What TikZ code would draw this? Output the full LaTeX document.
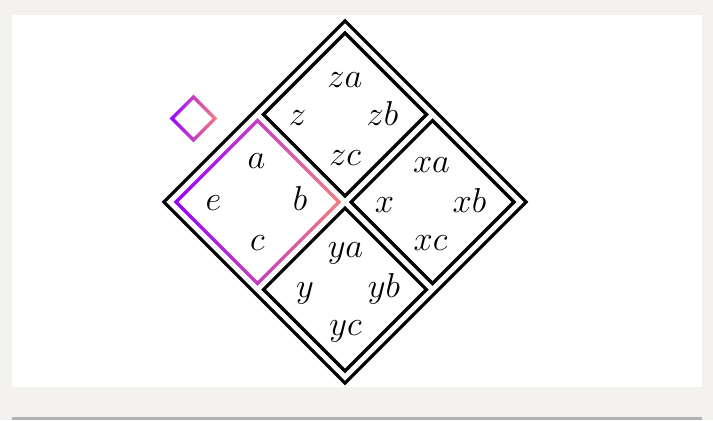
\documentclass[tikz,border=0pt]{standalone}
\usepackage{amsmath}
\definecolor{pagebg}{RGB}{243,242,239}
\definecolor{rulegray}{RGB}{178,178,178}
\definecolor{gradleft}{RGB}{150,0,255}
\definecolor{gradmid}{RGB}{222,60,175}
\definecolor{gradright}{RGB}{242,128,128}

\begin{document}
\begin{tikzpicture}[x=0.5pt, y=0.5pt,
    frame/.style={draw=black, line width=1.6pt},
    grad/.style={left color=gradleft, middle color=gradmid, right color=gradright, even odd rule},
    lbl/.style={anchor=base, inner sep=0pt, font=\LARGE}]

    % Page
    \useasboundingbox (0,0) rectangle (713,420);
    \fill[pagebg] (0,0) rectangle (713,420);
    \fill[white] (12,33) rectangle (702,405);
    \fill[rulegray] (12,0) rectangle (702,3.5);

    % Outer square and the black quadrants
    \begin{scope}[shift={(345,218)}, rotate=45]
        \draw[frame] (-128,-128) rectangle (128,128);
        \draw[frame] (4.25,4.25) rectangle (119.5,119.5);      % z
        \draw[frame] (4.25,-119.5) rectangle (119.5,-4.25);    % x
        \draw[frame] (-119.5,-119.5) rectangle (-4.25,-4.25);  % y
    \end{scope}

    % Shaded quadrant e
    \begin{scope}[shift={(257.5,218)}]
        \shade[grad] (-83.8,0) -- (0,83.8) -- (83.8,0) -- (0,-83.8) -- cycle
                     (-79.2,0) -- (0,79.2) -- (79.2,0) -- (0,-79.2) -- cycle;
    \end{scope}

    % Small marker
    \begin{scope}[shift={(193.5,301.5)}]
        \shade[grad] (-23.8,0) -- (0,23.8) -- (23.8,0) -- (0,-23.8) -- cycle
                     (-19.2,0) -- (0,19.2) -- (19.2,0) -- (0,-19.2) -- cycle;
    \end{scope}

    % Labels
    \node[lbl] (a) at (256.5,252) {$a$};
    \node[lbl] (e) at (213.5,210) {$e$};
    \node[lbl] (b) at (300,210) {$b$};
    \node[lbl] (c) at (257.5,170) {$c$};

    \node[lbl] (za) at (345,333) {$za$};
    \node[lbl] (z) at (297.5,295) {$z$};
    \node[lbl] (zb) at (382.5,295) {$zb$};
    \node[lbl] (zc) at (345,255) {$zc$};

    \node[lbl] (xa) at (431.5,248) {$xa$};
    \node[lbl] (x) at (384.5,208) {$x$};
    \node[lbl] (xb) at (469.5,208) {$xb$};
    \node[lbl] (xc) at (430.5,170) {$xc$};

    \node[lbl] (ya) at (345.5,163) {$ya$};
    \node[lbl] (y) at (305,123) {$y$};
    \node[lbl] (yb) at (384,123) {$yb$};
    \node[lbl] (yc) at (345.5,85) {$yc$};
\end{tikzpicture}
\end{document}
